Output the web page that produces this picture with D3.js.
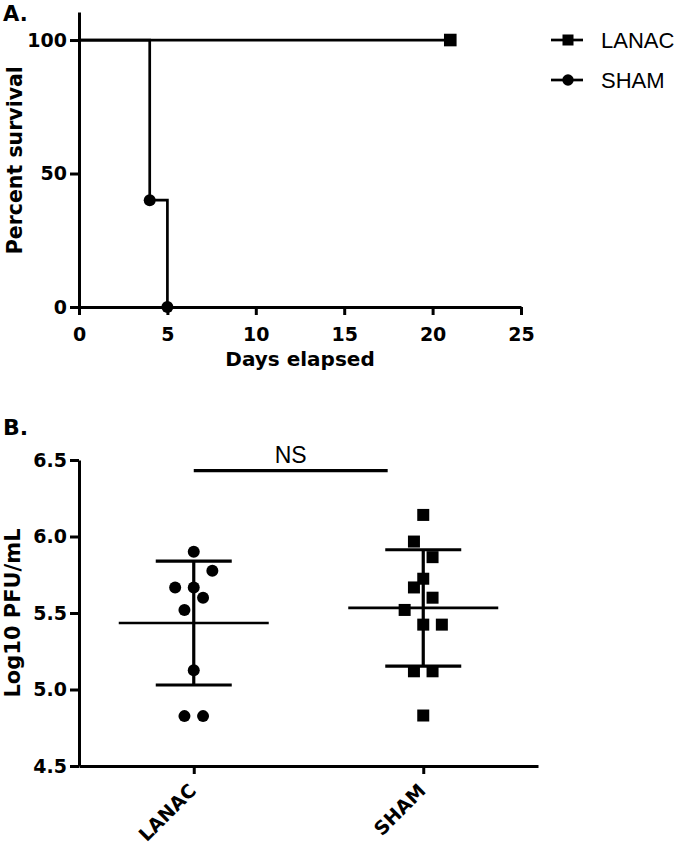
<!DOCTYPE html>
<html><head><meta charset="utf-8">
<script src="https://cdn.jsdelivr.net/npm/d3@7"></script>
<style>
body{margin:0;background:#fff;}
text{fill:#000;}
</style></head>
<body><svg id="c" width="680" height="848"></svg>
<script>
// ---------- Panel A data (Kaplan-Meier) ----------
const survSeries = ["LANAC", "SHAM"];
const lanacDays = [0, 21];
const lanacSurv = [100, 100];
const shamDays = [0, 4, 5];
const shamSurv = [100, 40, 0];
const survXTicks = [0, 5, 10, 15, 20, 25];
const survYTicks = [0, 50, 100];

// ---------- Panel B data (scatter, mean ± SD) ----------
const groups = ["LANAC", "SHAM"];
const lanacVals = [5.90, 5.776, 5.667, 5.667, 5.60, 5.52, 5.126, 4.826, 4.826];
const lanacCol  = [0, 2, -2, 0, 1, -1, 0, -1, 1];   // scatter column
const shamVals  = [6.141, 5.967, 5.865, 5.724, 5.667, 5.60, 5.52, 5.424, 5.424, 5.119, 5.119, 4.83];
const shamCol   = [0, -1, 1, 0, -1, 1, -2, 0, 2, -1, 1, 0];
const pfuYTicks = [4.5, 5.0, 5.5, 6.0, 6.5];
const sigLabel = "NS";

const svg = d3.select("#c");
const boldFont = '"DejaVu Sans",Verdana,sans-serif';
const plainFont = '"Liberation Sans",Arial,sans-serif';
const SW = 3;

const styleAxis = (g, fs) => {
  g.select(".domain").attr("stroke", "#000").attr("stroke-width", SW);
  g.selectAll(".tick line").attr("stroke", "#000").attr("stroke-width", SW);
  g.selectAll(".tick text").attr("font-size", fs).attr("font-weight", "bold").attr("font-family", boldFont);
};

// ================= Panel A =================
const xA = d3.scaleLinear().domain([0, 25]).range([79, 521]);
const yA = d3.scaleLinear().domain([0, 110.5]).range([307, 12]);

svg.append("text").attr("x", 3).attr("y", 21).attr("font-size", 21).attr("font-weight", "bold")
  .attr("font-family", boldFont).text("A.");

const axA_x = svg.append("g").attr("transform", `translate(0,${yA(0)})`)
  .call(d3.axisBottom(xA).tickValues(survXTicks).tickSize(8).tickSizeOuter(0).tickFormat(d3.format("d")));
const axA_y = svg.append("g").attr("transform", `translate(${xA(0)},0)`)
  .call(d3.axisLeft(yA).tickValues(survYTicks).tickSize(9).tickSizeOuter(0).tickPadding(3).tickFormat(d3.format("d")));
styleAxis(axA_x, 19); styleAxis(axA_y, 19);
axA_x.selectAll(".tick text").attr("y", 34).attr("dy", null);

svg.append("text").attr("transform", `translate(22,${yA(55)}) rotate(-90)`).attr("text-anchor", "middle")
  .attr("font-size", 20.5).attr("font-weight", "bold").attr("font-family", boldFont).text("Percent survival");
svg.append("text").attr("x", xA(12.5)).attr("y", 366).attr("text-anchor", "middle")
  .attr("font-size", 20).attr("font-weight", "bold").attr("font-family", boldFont).text("Days elapsed");

const step = (days, surv) => {
  const pts = [];
  days.forEach((d, i) => { if (i > 0) pts.push([d, surv[i - 1]]); pts.push([d, surv[i]]); });
  return pts;
};
const lineA = d3.line().x(d => xA(d[0])).y(d => yA(d[1]));
svg.append("path").attr("d", lineA(step(lanacDays, lanacSurv))).attr("fill", "none").attr("stroke", "#000").attr("stroke-width", 2.7);
svg.append("path").attr("d", lineA(step(shamDays, shamSurv))).attr("fill", "none").attr("stroke", "#000").attr("stroke-width", 2.7);
// event markers
lanacDays.slice(1).forEach((d, i) => {
  svg.append("rect").attr("x", xA(d) - 6.3).attr("y", yA(lanacSurv[i + 1]) - 6.3).attr("width", 12.6).attr("height", 12.6).attr("fill", "#000");
});
shamDays.slice(1).forEach((d, i) => {
  svg.append("circle").attr("cx", xA(d)).attr("cy", yA(shamSurv[i + 1])).attr("r", 6).attr("fill", "#000");
});

// legend
const legY = d3.scalePoint().domain(survSeries).range([40, 80]);
survSeries.forEach((s, i) => {
  const y = legY(s);
  svg.append("line").attr("x1", 551).attr("x2", 583).attr("y1", y).attr("y2", y).attr("stroke", "#000").attr("stroke-width", 2.7);
  if (i === 0) svg.append("rect").attr("x", 562.5).attr("y", y - 5.5).attr("width", 11).attr("height", 11).attr("fill", "#000");
  else svg.append("circle").attr("cx", 568).attr("cy", y).attr("r", 5.7).attr("fill", "#000");
  svg.append("text").attr("x", 601).attr("y", y + 7.5).attr("font-size", 22).attr("font-family", plainFont).text(s);
});

// ================= Panel B =================
const xB = d3.scalePoint().domain(groups).range([79, 538]).padding(0.5);
const yB = d3.scaleLinear().domain([4.5, 6.5]).range([766, 460]);
const jit = d3.scaleLinear().domain([0, 1]).range([0, 9.3]);

svg.append("text").attr("x", 3).attr("y", 435).attr("font-size", 22).attr("font-weight", "bold")
  .attr("font-family", boldFont).text("B.");

const axB_x = svg.append("g").attr("transform", `translate(0,${yB(4.5)})`)
  .call(d3.axisBottom(xB).tickSize(8).tickSizeOuter(0));
const axB_y = svg.append("g").attr("transform", `translate(${xB.range()[0]},0)`)
  .call(d3.axisLeft(yB).tickValues(pfuYTicks).tickSize(9).tickSizeOuter(0).tickPadding(3).tickFormat(d3.format(".1f")));
styleAxis(axB_x, 19); styleAxis(axB_y, 19);
axB_x.selectAll(".tick text").attr("text-anchor", "end").attr("dy", null).attr("y", 0).attr("x", 0)
  .attr("transform", "translate(3,26) rotate(-45)");

svg.append("text").attr("transform", `translate(20,${yB(5.5)}) rotate(-90)`).attr("text-anchor", "middle")
  .attr("font-size", 21).attr("font-weight", "bold").attr("font-family", boldFont).text("Log10 PFU/mL");

// NS bar
const nsX1 = xB("LANAC"), nsX2 = xB("LANAC") + (xB("SHAM") - xB("LANAC")) * 0.845;
svg.append("line").attr("x1", nsX1).attr("x2", nsX2)
  .attr("y1", yB(6.43)).attr("y2", yB(6.43)).attr("stroke", "#000").attr("stroke-width", 3.3);
svg.append("text").attr("x", (nsX1 + nsX2) / 2).attr("y", 463)
  .attr("text-anchor", "middle").attr("font-size", 23).attr("font-family", plainFont).text(sigLabel);

const drawGroup = (name, vals, cols, shape) => {
  const cx = xB(name);
  const m = d3.mean(vals), sd = d3.deviation(vals);
  const g = svg.append("g");
  g.append("line").attr("x1", cx).attr("x2", cx).attr("y1", yB(m + sd)).attr("y2", yB(m - sd)).attr("stroke", "#000").attr("stroke-width", 3.2);
  [m + sd, m - sd].forEach(v => {
    g.append("line").attr("x1", cx - 38).attr("x2", cx + 38).attr("y1", yB(v)).attr("y2", yB(v)).attr("stroke", "#000").attr("stroke-width", 3.2);
  });
  g.append("line").attr("x1", cx - 75).attr("x2", cx + 75).attr("y1", yB(m)).attr("y2", yB(m)).attr("stroke", "#000").attr("stroke-width", 2.6);
  vals.forEach((v, i) => {
    const px = cx + jit(cols[i]), py = yB(v);
    if (shape === "circle") g.append("circle").attr("cx", px).attr("cy", py).attr("r", 6).attr("fill", "#000");
    else g.append("rect").attr("x", px - 6).attr("y", py - 6).attr("width", 12).attr("height", 12).attr("fill", "#000");
  });
};
drawGroup("LANAC", lanacVals, lanacCol, "circle");
drawGroup("SHAM", shamVals, shamCol, "square");
</script></body></html>
